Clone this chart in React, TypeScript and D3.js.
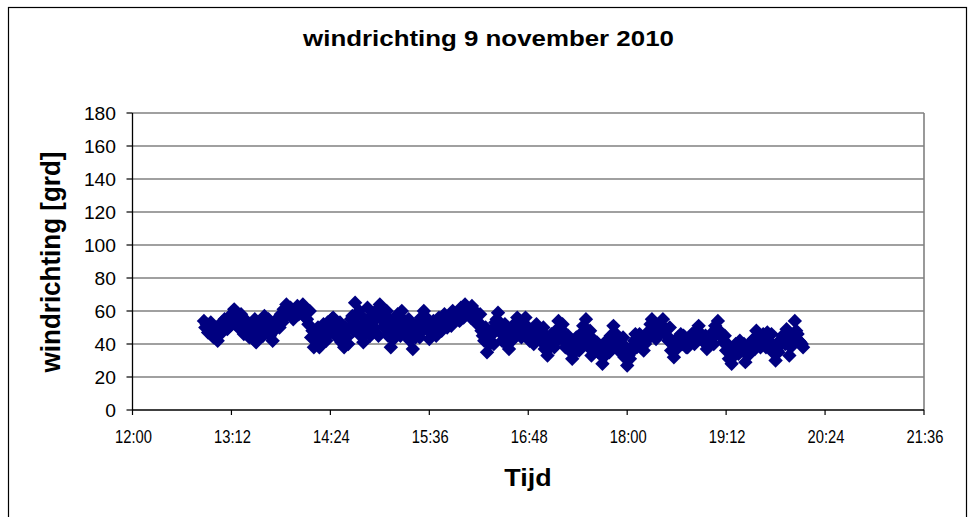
import React from 'react';
import * as d3 from 'd3';

const chartTitle = 'windrichting 9 november 2010';
const yAxisTitle = 'windrichting [grd]';
const xAxisTitle = 'Tijd';
const yTicks = [0, 20, 40, 60, 80, 100, 120, 140, 160, 180];
const xTickLabels = ['12:00', '13:12', '14:24', '15:36', '16:48', '18:00', '19:12', '20:24', '21:36'];

// readings at even minutes
const times = [
  '12:52', '12:54', '12:56', '12:58',
  '13:00', '13:02', '13:04', '13:06', '13:08', '13:10', '13:12', '13:14', '13:16', '13:18',
  '13:20', '13:22', '13:24', '13:26', '13:28', '13:30', '13:32', '13:34', '13:36', '13:38',
  '13:40', '13:42', '13:44', '13:46', '13:48', '13:50', '13:52', '13:54', '13:56', '13:58',
  '14:00', '14:02', '14:04', '14:06', '14:08', '14:10', '14:12', '14:14', '14:16', '14:18',
  '14:20', '14:22', '14:24', '14:26', '14:28', '14:30', '14:32', '14:34', '14:36', '14:38',
  '14:40', '14:42', '14:44', '14:46', '14:48', '14:50', '14:52', '14:54', '14:56', '14:58',
  '15:00', '15:02', '15:04', '15:06', '15:08', '15:10', '15:12', '15:14', '15:16', '15:18',
  '15:20', '15:22', '15:24', '15:26', '15:28', '15:30', '15:32', '15:34', '15:36', '15:38',
  '15:40', '15:42', '15:44', '15:46', '15:48', '15:50', '15:52', '15:54', '15:56', '15:58',
  '16:00', '16:02', '16:04', '16:06', '16:08', '16:10', '16:12', '16:14', '16:16', '16:18',
  '16:20', '16:22', '16:24', '16:26', '16:28', '16:30', '16:32', '16:34', '16:36', '16:38',
  '16:40', '16:42', '16:44', '16:46', '16:48', '16:50', '16:52', '16:54', '16:56', '16:58',
  '17:00', '17:02', '17:04', '17:06', '17:08', '17:10', '17:12', '17:14', '17:16', '17:18',
  '17:20', '17:22', '17:24', '17:26', '17:28', '17:30', '17:32', '17:34', '17:36', '17:38',
  '17:40', '17:42', '17:44', '17:46', '17:48', '17:50', '17:52', '17:54', '17:56', '17:58',
  '18:00', '18:02', '18:04', '18:06', '18:08', '18:10', '18:12', '18:14', '18:16', '18:18',
  '18:20', '18:22', '18:24', '18:26', '18:28', '18:30', '18:32', '18:34', '18:36', '18:38',
  '18:40', '18:42', '18:44', '18:46', '18:48', '18:50', '18:52', '18:54', '18:56', '18:58',
  '19:00', '19:02', '19:04', '19:06', '19:08', '19:10', '19:12', '19:14', '19:16', '19:18',
  '19:20', '19:22', '19:24', '19:26', '19:28', '19:30', '19:32', '19:34', '19:36', '19:38',
  '19:40', '19:42', '19:44', '19:46', '19:48', '19:50', '19:52', '19:54', '19:56', '19:58',
  '20:00', '20:02', '20:04', '20:06', '20:08',
];

const directions = [
  54, 52, 49, 46,
  44, 42, 46, 49, 52, 55, 58, 61, 57, 54, 51, 48, 52, 47, 43, 41, 46, 53, 57, 50, 45, 42, 50, 54, 58, 61, 64, 60, 57, 61,
  63, 60, 64, 61, 52, 44, 38, 43, 38, 44, 49, 53, 50, 56, 51, 46, 41, 38, 44, 50, 57, 65, 58, 45, 41, 47, 53, 57, 50, 56,
  64, 59, 52, 45, 38, 43, 50, 56, 60, 54, 47, 42, 37, 44, 50, 56, 60, 49, 43, 47, 52, 48, 54, 50, 53, 56, 51, 55, 58, 54,
  60, 64, 60, 56, 61, 57, 53, 48, 42, 35, 40, 46, 53, 59, 52, 45, 40, 37, 42, 48, 56, 51, 46, 56, 50, 44, 40, 52, 47, 41,
  37, 33, 38, 43, 48, 54, 49, 44, 40, 36, 31, 35, 40, 46, 51, 55, 38, 33, 37, 41, 34, 28, 33, 39, 45, 51, 46, 41, 37, 32,
  27, 31, 36, 46, 42, 38, 36, 42, 48, 55, 50, 46, 51, 55, 48, 42, 36, 32, 37, 42, 40, 44, 38, 41, 45, 48, 51, 46, 41, 37,
  42, 47, 51, 54, 47, 41, 36, 31, 28, 33, 38, 42, 36, 29, 33, 38, 43, 48, 44, 40, 43, 47, 41, 35, 30, 35, 40, 45, 49, 33,
  40, 54, 46, 41, 38,
];

// readings at odd minutes
const timesB = [
  '12:53', '12:55', '12:57', '12:59',
  '13:01', '13:03', '13:05', '13:07', '13:09', '13:11', '13:13', '13:15', '13:17', '13:19',
  '13:21', '13:23', '13:25', '13:27', '13:29', '13:31', '13:33', '13:35', '13:37', '13:39',
  '13:41', '13:43', '13:45', '13:47', '13:49', '13:51', '13:53', '13:55', '13:57', '13:59',
  '14:01', '14:03', '14:05', '14:07', '14:09', '14:11', '14:13', '14:15', '14:17', '14:19',
  '14:21', '14:23', '14:25', '14:27', '14:29', '14:31', '14:33', '14:35', '14:37', '14:39',
  '14:41', '14:43', '14:45', '14:47', '14:49', '14:51', '14:53', '14:55', '14:57', '14:59',
  '15:01', '15:03', '15:05', '15:07', '15:09', '15:11', '15:13', '15:15', '15:17', '15:19',
  '15:21', '15:23', '15:25', '15:27', '15:29', '15:31', '15:33', '15:35', '15:37', '15:39',
  '15:41', '15:43', '15:45', '15:47', '15:49', '15:51', '15:53', '15:55', '15:57', '15:59',
  '16:01', '16:03', '16:05', '16:07', '16:09', '16:11', '16:13', '16:15', '16:17', '16:19',
  '16:21', '16:23', '16:25', '16:27', '16:29', '16:31', '16:33', '16:35', '16:37', '16:39',
  '16:41', '16:43', '16:45', '16:47', '16:49', '16:51', '16:53', '16:55', '16:57', '16:59',
  '17:01', '17:03', '17:05', '17:07', '17:09', '17:11', '17:13', '17:15', '17:17', '17:19',
  '17:21', '17:23', '17:25', '17:27', '17:29', '17:31', '17:33', '17:35', '17:37', '17:39',
  '17:41', '17:43', '17:45', '17:47', '17:49', '17:51', '17:53', '17:55', '17:57', '17:59',
  '18:01', '18:03', '18:05', '18:07', '18:09', '18:11', '18:13', '18:15', '18:17', '18:19',
  '18:21', '18:23', '18:25', '18:27', '18:29', '18:31', '18:33', '18:35', '18:37', '18:39',
  '18:41', '18:43', '18:45', '18:47', '18:49', '18:51', '18:53', '18:55', '18:57', '18:59',
  '19:01', '19:03', '19:05', '19:07', '19:09', '19:11', '19:13', '19:15', '19:17', '19:19',
  '19:21', '19:23', '19:25', '19:27', '19:29', '19:31', '19:33', '19:35', '19:37', '19:39',
  '19:41', '19:43', '19:45', '19:47', '19:49', '19:51', '19:53', '19:55', '19:57', '19:59',
  '20:01', '20:03', '20:05', '20:07',
];

const directionsB = [
  50, 47, 53, 44,
  50, 48, 53, 55, 49, 51, 54, 52, 50, 58, 46, 54, 44, 50, 55, 49, 52, 45, 48, 55, 52, 48, 55, 50, 53, 57, 58, 62, 55, 60,
  58, 62, 57, 55, 60, 48, 42, 50, 46, 52, 42, 46, 55, 48, 44, 53, 48, 50, 40, 55, 48, 52, 60, 50, 55, 62, 45, 50, 60, 45,
  55, 50, 60, 55, 48, 52, 58, 45, 50, 45, 55, 52, 48, 52, 44, 48, 52, 55, 50, 54, 45, 56, 48, 58, 50, 52, 60, 58, 55, 62,
  56, 62, 58, 63, 55, 52, 58, 45, 50, 44, 48, 40, 55, 48, 42, 52, 47, 44, 50, 53, 48, 44, 52, 48, 42, 47, 50, 45, 43, 50,
  45, 42, 46, 38, 42, 47, 52, 38, 45, 42, 38, 44, 36, 40, 45, 42, 48, 43, 40, 35, 38, 36, 42, 35, 40, 44, 38, 35, 44, 38,
  33, 38, 42, 38, 46, 44, 40, 45, 52, 48, 43, 52, 47, 50, 45, 50, 40, 38, 44, 46, 45, 38, 42, 46, 40, 44, 46, 42, 45, 40,
  45, 40, 46, 48, 44, 45, 40, 37, 35, 40, 34, 38, 40, 35, 38, 42, 37, 42, 38, 46, 38, 42, 46, 38, 36, 42, 45, 40, 42, 38,
  45, 48, 42, 40,
];

const toMin = (s: string) => {
  const [h, m] = s.split(':').map(Number);
  return h * 60 + m;
};

const FONT = '"Liberation Sans", Arial, Helvetica, sans-serif';

export default function App() {
  const W = 970;
  const H = 517;
  const left = 132.5;
  const right = 924;
  const top = 113;
  const bottom = 410;

  const x = d3
    .scaleLinear()
    .domain([toMin(xTickLabels[0]), toMin(xTickLabels[xTickLabels.length - 1])])
    .range([left, right]);
  const y = d3.scaleLinear().domain([0, 180]).range([bottom, top]);

  const r = 7.2;
  const diamond = `M0,${-r}L${r},0L0,${r}L${-r},0Z`;

  const pts = [
    ...times.map((t, i) => ({ t: toMin(t), v: directions[i] })),
    ...timesB.map((t, i) => ({ t: toMin(t), v: directionsB[i] })),
  ]
    .filter((p) => p.v !== undefined)
    .sort((a, b) => a.t - b.t);

  return (
    <svg
      width={W}
      height={H}
      style={{ position: 'absolute', left: 0, top: 0, background: '#fff' }}
      fontFamily={FONT}
    >
      <rect x={0} y={0} width={W} height={H} fill="#fff" />
      <rect x={8.5} y={7.5} width={958} height={530} fill="none" stroke="#000" strokeWidth={1.2} />

      {yTicks.filter((v) => v > 0).map((v) => (
        <line key={v} x1={left} x2={right} y1={y(v)} y2={y(v)} stroke="#808080" strokeWidth={1.6} />
      ))}
      <line x1={right} x2={right} y1={top} y2={bottom} stroke="#808080" strokeWidth={1.6} />

      <g fill="#000080">
        {pts.map((p, i) => (
          <path key={i} d={diamond} transform={`translate(${x(p.t)},${y(p.v)})`} />
        ))}
      </g>

      <line x1={left} x2={left} y1={top} y2={bottom} stroke="#000" strokeWidth={1.3} />
      <line x1={left} x2={right} y1={bottom} y2={bottom} stroke="#000" strokeWidth={1.3} />
      {yTicks.map((v) => (
        <g key={v}>
          <line x1={left - 6} x2={left} y1={y(v)} y2={y(v)} stroke="#000" strokeWidth={1.2} />
          <text
            transform={`translate(116,${y(v) + 6.5}) scale(1.1,1)`}
            textAnchor="end"
            fontSize={17.5}
            fill="#000"
          >
            {v}
          </text>
        </g>
      ))}
      {xTickLabels.map((s) => (
        <g key={s}>
          <line x1={x(toMin(s))} x2={x(toMin(s))} y1={bottom} y2={bottom + 5} stroke="#000" strokeWidth={1.2} />
          <text
            transform={`translate(${x(toMin(s)) + 1},442.5) scale(0.82,1)`}
            textAnchor="middle"
            fontSize={18}
            fill="#000"
          >
            {s}
          </text>
        </g>
      ))}

      <text
        transform="translate(488.5,46) scale(1.15,1)"
        textAnchor="middle"
        fontSize={22.5}
        fontWeight="bold"
        fill="#000"
      >
        {chartTitle}
      </text>
      <text
        transform="translate(528,486) scale(1.12,1)"
        textAnchor="middle"
        fontSize={24}
        fontWeight="bold"
        fill="#000"
      >
        {xAxisTitle}
      </text>
      <text
        transform="translate(60,262) rotate(-90) scale(1,1.08)"
        textAnchor="middle"
        fontSize={26}
        fontWeight="bold"
        fill="#000"
      >
        {yAxisTitle}
      </text>
    </svg>
  );
}
